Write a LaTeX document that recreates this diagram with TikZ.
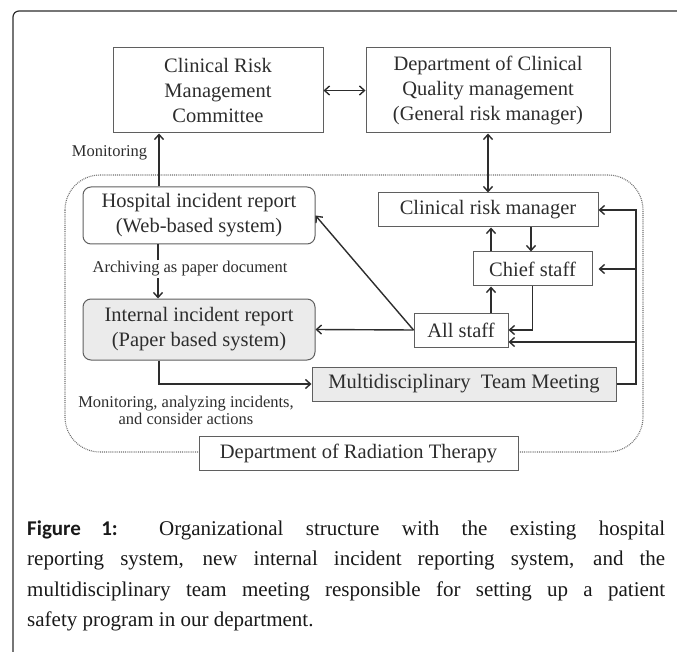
\documentclass[tikz,border=0pt]{standalone}
\usepackage{fontspec}
\setmainfont{Liberation Serif}
\newfontfamily\figlabel{Carlito}
\usepackage{tikz}
\usetikzlibrary{arrows.meta}
\definecolor{edgeGray}{RGB}{95,95,95}
\definecolor{lineGray}{RGB}{45,45,45}
\definecolor{textGray}{RGB}{45,45,45}
\definecolor{fillGray}{RGB}{235,235,235}
\definecolor{dotGray}{RGB}{110,110,110}
\tikzset{
  box/.style={draw=edgeGray, line width=1pt, text=textGray, align=center,
              inner sep=0pt, font=\fontsize{20.5}{25}\selectfont},
  roundbox/.style={box, rounded corners=8pt},
  greybox/.style={fill=fillGray},
  arr/.style={draw=lineGray, line width=1.4pt, -{Straight Barb[length=5pt,width=9pt]}},
  darr/.style={arr, {Straight Barb[length=5pt,width=9pt]}-{Straight Barb[length=5pt,width=9pt]}},
  lbl/.style={text=textGray, inner sep=1pt, align=center, font=\fontsize{16.5}{17}\selectfont},
}

\begin{document}
\begin{tikzpicture}[x=1pt,y=-1pt]
  \useasboundingbox (0,0) rectangle (677,652);

  % page frame
  \draw[lineGray, line width=1.2pt, rounded corners=6pt] (13,652) -- (13,11) -- (677,11);

  % department boundary
  \draw[dotGray, line width=1.1pt, dash pattern=on 0.9pt off 1pt, rounded corners=35pt]
       (65,175) rectangle (643,452);

  \node[box, minimum width=210pt, minimum height=85pt] (crmc) at (218,90.5) {Clinical Risk\\Management\\Committee};
  \node[box, minimum width=244pt, minimum height=85pt] (dcqm) at (488,90.5) {Department of Clinical\\Quality management\\(General risk manager)};

  \node[roundbox, minimum width=232pt, minimum height=57pt] (hosp) at (199,215.5) {Hospital incident report\\(Web-based system)};
  \node[roundbox, greybox, minimum width=232pt, minimum height=61pt] (intl) at (199,329.5) {Internal incident report\\(Paper based system)};

  \node[box, minimum width=220pt, minimum height=34pt] (crm) at (488,210) {Clinical risk manager};
  \node[box, minimum width=119pt, minimum height=34pt] (chief) at (532.5,269) {Chief staff};
  \node[box, minimum width=94pt, minimum height=34pt] (all) at (461,330) {All staff};
  \node[box, greybox, minimum width=304pt, minimum height=34pt] (mtm) at (464,384) {Multidisciplinary\ \ Team Meeting};
  \node[box, fill=white, minimum width=319pt, minimum height=34pt] (dept) at (358.5,453) {Department of Radiation Therapy};

  \coordinate (fb) at (636,0);
  \coordinate (allin) at ([yshift=-12pt]all.east);

  % top level
  \draw[darr] (crmc) -- (dcqm);
  \draw[darr] (dcqm) -- (crm);

  % hospital report flow
  \coordinate (mon) at ([xshift=-40pt]hosp.north);
  \draw[arr] (mon) -- (mon |- crmc.south);
  \node[lbl] (monlbl) at (109.5,153) {Monitoring};
  \coordinate (arch) at ([xshift=-41pt]hosp.south);
  \draw[arr] (arch) -- (arch |- intl.north);
  \node[lbl, fill=white] (archlbl) at (190,269) {Archiving as paper document};
  \coordinate (mon2) at ([xshift=-40pt]intl.south);
  \draw[arr] (mon2) |- (mtm.west);
  \node[lbl] (actlbl) at (186,410) {Monitoring, analyzing incidents,\\and consider actions};

  % reports from staff
  \draw[arr] (all.west) -- (hosp.east);
  \draw[arr] (all.west) -- (intl.east);

  % staff hierarchy
  \coordinate (up) at ([xshift=30pt]all.north);
  \draw[arr] (up) -- (up |- chief.south);
  \coordinate (up2) at ([xshift=-41.5pt]chief.north);
  \draw[arr] (up2) -- (up2 |- crm.south);
  \coordinate (down) at ([xshift=43pt]crm.south);
  \draw[arr] (down) -- (down |- chief.north);
  \draw[arr] (chief.south) |- (all.east);

  % feedback from team meeting
  \draw[arr] (mtm.east) -- (mtm.east -| fb) -- (crm.east -| fb) -- (crm.east);
  \draw[arr, shorten >=6pt] (chief.east -| fb) -- (chief.east);
  \draw[arr] (allin -| fb) -- (allin);

  % caption
  \node[anchor=base west, text width=638pt, align=justify, inner sep=0pt, text=black!90,
        font=\fontsize{21}{30.5}\selectfont] (caption) at (27,535)
    {{\figlabel\bfseries Figure 1:} Organizational structure with the existing hospital\linebreak
     reporting system, new internal incident reporting system, and the\linebreak
     multidisciplinary team meeting responsible for setting up a patient\linebreak
     safety program in our department.};
\end{tikzpicture}
\end{document}
